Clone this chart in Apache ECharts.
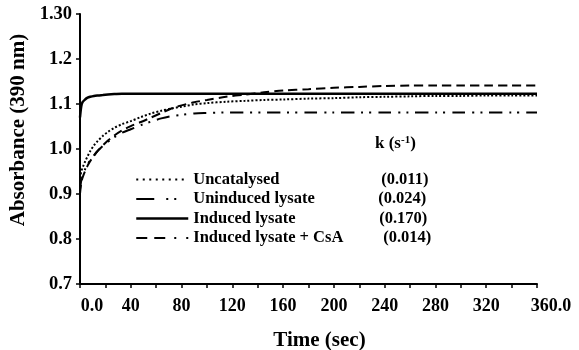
<!DOCTYPE html>
<html>
<head>
<meta charset="utf-8">
<script src="https://cdn.jsdelivr.net/npm/echarts@6/dist/echarts.min.js"></script>
<style>
html,body{margin:0;padding:0;background:#fff;}
#chart{width:579px;height:350px;}
</style>
</head>
<body>
<div id="chart"></div>
<script>
// ---- data ----
var times = [0, 1, 2, 4, 6, 8, 11, 14, 18, 22, 27, 33, 40, 48, 56, 64, 72, 80, 90, 100, 115, 130, 145, 160, 180, 200, 220, 240, 260, 280, 300, 320, 340, 360];
var uncatalysed = [0.935, 0.95, 0.958, 0.972, 0.984, 0.995, 1.008, 1.018, 1.029, 1.038, 1.047, 1.055, 1.062, 1.071, 1.079, 1.085, 1.09, 1.094, 1.099, 1.102, 1.105, 1.107, 1.109, 1.110, 1.112, 1.113, 1.115, 1.116, 1.117, 1.118, 1.118, 1.119, 1.119, 1.119];
var uninduced = [0.91, 0.93, 0.94, 0.955, 0.966, 0.975, 0.986, 0.996, 1.007, 1.016, 1.026, 1.036, 1.044, 1.053, 1.061, 1.068, 1.073, 1.076, 1.079, 1.080, 1.081, 1.081, 1.081, 1.081, 1.081, 1.081, 1.081, 1.081, 1.081, 1.081, 1.081, 1.081, 1.081, 1.081];
var induced = [1.07, 1.095, 1.104, 1.11, 1.114, 1.116, 1.118, 1.119, 1.12, 1.121, 1.122, 1.123, 1.123, 1.123, 1.123, 1.123, 1.123, 1.123, 1.123, 1.123, 1.123, 1.123, 1.123, 1.123, 1.123, 1.123, 1.123, 1.123, 1.123, 1.123, 1.123, 1.123, 1.123, 1.123];
var inducedCsA = [0.90, 0.925, 0.936, 0.951, 0.963, 0.973, 0.985, 0.996, 1.008, 1.019, 1.03, 1.041, 1.051, 1.06, 1.07, 1.08, 1.09, 1.097, 1.104, 1.109, 1.116, 1.121, 1.126, 1.13, 1.133, 1.136, 1.138, 1.14, 1.141, 1.141, 1.141, 1.141, 1.141, 1.141];
var seriesNames = ['Uncatalysed', 'Uninduced lysate', 'Induced lysate', 'Induced lysate + CsA'];
var rateConstants = ['(0.011)', '(0.024)', '(0.170)', '(0.014)'];
var xTickLabels = {0: '0.0', 40: '40', 80: '80', 120: '120', 160: '160', 200: '200', 240: '240', 280: '280', 320: '320', 360: '360.0'};

function pairs(vals) { return times.map(function (t, i) { return [t, vals[i]]; }); }

var FONT = 'Liberation Serif';
var chart = echarts.init(document.getElementById('chart'));
var valueSets = [uncatalysed, uninduced, induced, inducedCsA];
var dashTypes = [[2, 2], [13, 7, 2, 6, 2, 7], 'solid', [9, 5]];
var legendDash = [[2, 4.5], [18, 12, 2, 6, 2, 12], 'solid', [11, 7, 11, 9, 2, 10]];
var widths = [2, 2, 2.5, 2];
var nameWidths = [188, 185, 186, 190];

var series = seriesNames.map(function (n, i) {
  return {
    name: n, type: 'line', data: pairs(valueSets[i]), showSymbol: false, symbol: 'none',
    smooth: 0.3, animation: false,
    lineStyle: { color: '#000', width: widths[i], type: dashTypes[i] },
    itemStyle: { color: '#000' }
  };
});

function rs(w) {
  var o = { fontFamily: FONT, fontWeight: 'bold', fontSize: 16.5, color: '#000', lineHeight: 14 };
  if (w) o.width = w;
  return o;
}

chart.setOption({
  backgroundColor: '#fff',
  animation: false,
  grid: { left: 80, right: 42, top: 14, bottom: 66, containLabel: false, outerBoundsMode: 'none' },
  xAxis: {
    type: 'value', min: 0, max: 360, interval: 20,
    name: 'Time (sec)', nameLocation: 'middle', nameGap: 46,
    nameTextStyle: { fontFamily: FONT, fontWeight: 'bold', fontSize: 21, color: '#000', padding: [0, 0, 0, 22] },
    axisLine: { lineStyle: { color: '#000', width: 2 } },
    axisTick: { show: true, length: 4, lineStyle: { color: '#000', width: 1.5 } },
    splitLine: { show: false },
    axisLabel: {
      margin: 13, color: '#000', fontFamily: FONT, fontWeight: 'bold', fontSize: 18,
      showMinLabel: true, showMaxLabel: true,
      formatter: function (v) {
        var s = xTickLabels[Math.round(v)];
        if (s === undefined) return '';
        if (v === 0) return '{a|' + s + '}';
        if (v === 360) return '{b|' + s + '}';
        return s;
      },
      rich: {
        a: { fontFamily: FONT, fontWeight: 'bold', fontSize: 18, color: '#000', padding: [0, 0, 0, 24] },
        b: { fontFamily: FONT, fontWeight: 'bold', fontSize: 18, color: '#000', padding: [0, 0, 0, 28] }
      }
    }
  },
  yAxis: {
    type: 'value', min: 0.7, max: 1.3, interval: 0.1,
    name: 'Absorbance (390 nm)', nameLocation: 'middle', nameGap: 50,
    nameTextStyle: { fontFamily: FONT, fontWeight: 'bold', fontSize: 21, color: '#000', padding: [0, 0, 0, 38] },
    axisLine: { show: true, lineStyle: { color: '#000', width: 2 } },
    axisTick: { show: true, length: 4, lineStyle: { color: '#000', width: 1.5 } },
    splitLine: { show: false },
    axisLabel: {
      margin: 8, color: '#000', fontFamily: FONT, fontWeight: 'bold', fontSize: 18.5,
      formatter: function (v) { return Math.abs(v - 1.3) < 1e-6 ? '1.30' : v.toFixed(1); }
    }
  },
  legend: {
    orient: 'vertical', left: 135, top: 171, padding: 0, itemWidth: 52, itemHeight: 14, itemGap: 2.5,
    itemStyle: { opacity: 0 },
    data: seriesNames.map(function (n, i) {
      return { name: n, lineStyle: { color: '#000', width: widths[i], type: legendDash[i] } };
    }),
    formatter: function (name) {
      var i = seriesNames.indexOf(name);
      return '{n' + i + '|' + name + '}{k|' + rateConstants[i] + '}';
    },
    textStyle: {
      fontFamily: FONT, fontWeight: 'bold', fontSize: 16.5, color: '#000', lineHeight: 14,
      rich: { n0: rs(nameWidths[0]), n1: rs(nameWidths[1]), n2: rs(nameWidths[2]), n3: rs(nameWidths[3]), k: rs() }
    }
  },
  graphic: [{
    type: 'text', left: 375, top: 135,
    style: {
      text: 'k (s{sup|-1})',
      font: 'bold 17px "Liberation Serif"', fill: '#000',
      rich: { sup: { font: 'bold 11px "Liberation Serif"', fill: '#000', verticalAlign: 'top', padding: [0, 0, 6, 0] } }
    }
  }],
  series: series
});
</script>
</body>
</html>
